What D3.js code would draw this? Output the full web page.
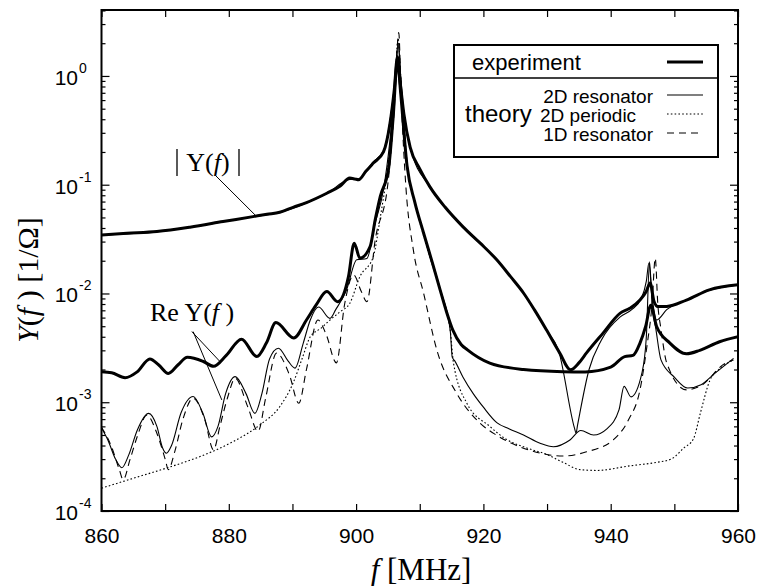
<!DOCTYPE html>
<html>
<head>
<meta charset="utf-8">
<script src="https://cdn.jsdelivr.net/npm/d3@7"></script>
<style>
  body { margin: 0; background: #fff; }
  svg { display: block; }
  .sans { font-family: "Liberation Sans", Arial, sans-serif; }
  .serif { font-family: "Liberation Serif", "Times New Roman", serif; }
</style>
</head>
<body>
<div id="chart"></div>
<script>
// ---- data: [f in MHz, Y in 1/Ohm] ----

// experiment, |Y(f)|
const expAbs = [
  [860, 0.0345], [864, 0.0357], [868.7, 0.0371], [873.9, 0.0407], [879.1, 0.0458],
  [883.8, 0.0509], [886, 0.0535], [888, 0.0558], [890.1, 0.062], [892.2, 0.0685],
  [895.4, 0.0835], [897.5, 0.097], [899, 0.115], [899.8, 0.113], [900.4, 0.111],
  [901.5, 0.132], [902.7, 0.158], [904.3, 0.2], [905.3, 0.36], [906, 0.75],
  [906.5, 1.5], [906.9, 0.9], [907.5, 0.45], [908.5, 0.22], [910, 0.14],
  [911.6, 0.0955], [914, 0.062], [916.8, 0.041], [919.5, 0.029], [922.1, 0.0204],
  [924.3, 0.0142], [926.3, 0.0101], [928, 0.0071], [929.9, 0.00463], [932, 0.00283],
  [933.7, 0.00199], [935, 0.0023], [936.2, 0.00284], [938.8, 0.00432], [941.5, 0.0066],
  [943, 0.0073], [944.6, 0.0087], [945.6, 0.0105], [946.2, 0.0125], [946.8, 0.0085],
  [947.4, 0.0076], [948.8, 0.0076], [951.9, 0.0087], [955.5, 0.0108], [960, 0.012]
];

// experiment, Re Y(f)
const expRe = [
  [860, 0.00191], [861.6, 0.00187], [863.7, 0.00168], [865.6, 0.0019], [867.6, 0.0025],
  [869, 0.0022], [870.5, 0.00184], [872, 0.0022], [873.5, 0.00259], [876, 0.00237],
  [877.6, 0.00214], [879.6, 0.0027], [882, 0.0038], [884.4, 0.00263], [885.9, 0.0035],
  [887.4, 0.0054], [890.2, 0.0039], [892.2, 0.0057], [893.7, 0.0078], [895.4, 0.0104],
  [897.1, 0.0084], [898.8, 0.0143], [899.7, 0.029], [900.6, 0.0211], [902.2, 0.027],
  [903, 0.0475], [903.8, 0.078], [905.1, 0.14], [905.8, 0.4], [906.5, 1.4],
  [907, 0.7], [908, 0.15], [909.2, 0.07], [910.6, 0.036], [912, 0.019],
  [913.2, 0.0108], [914.2, 0.0068], [915.2, 0.0046], [916.5, 0.0034], [917.5, 0.00303],
  [921, 0.00229], [926.3, 0.002], [932.5, 0.00191], [936, 0.0019], [940, 0.0021],
  [942.2, 0.00263], [943.5, 0.0027], [944.6, 0.0035], [945.5, 0.005], [946.3, 0.0078],
  [947.2, 0.005], [949.3, 0.0035], [951.9, 0.00279], [954, 0.003], [957.1, 0.0036],
  [960, 0.004]
];

// theory, 2D resonator, |Y(f)|
const res2dAbs = [
  [860, 0.0345], [868.7, 0.037], [873.9, 0.0405], [879.1, 0.0456], [883.8, 0.0508],
  [888, 0.0556], [892.2, 0.068], [895.4, 0.083], [899, 0.112], [900.3, 0.113],
  [902.7, 0.162], [904.3, 0.205], [905.3, 0.38], [906.1, 0.9], [906.6, 2.0],
  [907, 1.0], [907.5, 0.46], [908.5, 0.22], [911.6, 0.095], [916.8, 0.041],
  [922.1, 0.0203], [926.3, 0.01], [929.9, 0.0046], [931.8, 0.003], [934.3, 0.00058],
  [934.55, 0.00052], [934.8, 0.00062], [936.6, 0.002], [938.5, 0.0037], [941.5, 0.0061],
  [943.3, 0.0071], [944.8, 0.009], [945.6, 0.013], [946.0, 0.019], [946.5, 0.0094],
  [947.2, 0.0057], [948.8, 0.0071], [951.9, 0.0087], [955.5, 0.0107], [960, 0.012]
];

// theory, 2D resonator, Re Y(f)
const res2dRe = [
  [860, 0.00058], [861, 0.00045], [862.2, 0.0003], [863.2, 0.00025], [864.3, 0.00033],
  [865.6, 0.00055], [867.4, 0.00079], [868.7, 0.0006], [869.6, 0.00038], [870.2, 0.00034],
  [871, 0.0004], [872.5, 0.0008], [874.4, 0.00113], [875.9, 0.0008], [877.3, 0.00048],
  [878.3, 0.0006], [879.5, 0.0012], [881, 0.00172], [882.7, 0.0012], [884.1, 0.00079],
  [885.2, 0.0012], [886.4, 0.0025], [887.8, 0.00314], [889.3, 0.0024], [890.4, 0.00206],
  [891.7, 0.0035], [892.8, 0.0057], [894.1, 0.0075], [895.9, 0.0059], [896.8, 0.0071],
  [898.5, 0.0108], [900.1, 0.0204], [901.7, 0.021], [903, 0.0443], [904.3, 0.09],
  [905.3, 0.25], [906.1, 0.8], [906.6, 2.0], [907.1, 0.8], [908, 0.16],
  [909.2, 0.07], [910.6, 0.036], [913.2, 0.011], [914.8, 0.0045], [915.1, 0.0026],
  [915.5, 0.0024], [916.8, 0.0017], [918.4, 0.0012], [920, 0.0009], [922.1, 0.00065],
  [924, 0.00057], [926.3, 0.0005], [928.9, 0.00042], [931, 0.00039], [933.6, 0.00045],
  [935.3, 0.00055], [937.3, 0.0005], [939.4, 0.00057], [941.3, 0.00085], [942.1, 0.0014],
  [943.2, 0.00112], [944.9, 0.00185], [945.6, 0.004], [946.1, 0.0196], [946.5, 0.008],
  [947.1, 0.0047], [947.9, 0.00245], [950, 0.0017], [952.1, 0.00135], [954.2, 0.00145],
  [956.4, 0.00185], [959.3, 0.00253]
];

// theory, 2D periodic, Re Y(f)
const per2dRe = [
  [860, 0.000162], [865, 0.0002], [870.2, 0.000248], [875.5, 0.000317], [880.7, 0.000435],
  [884.9, 0.00062], [888, 0.00091], [890.1, 0.0015], [891.5, 0.0025], [892.8, 0.004],
  [894.5, 0.0048], [895.9, 0.0057], [897.5, 0.0068], [899, 0.0081], [900.6, 0.0143],
  [902.7, 0.0218], [903.8, 0.05], [905, 0.15], [906, 0.6], [906.6, 2.2],
  [907.1, 0.8], [908, 0.16], [909.2, 0.07], [910.6, 0.034], [913.2, 0.0105],
  [914.8, 0.0045], [915.3, 0.0023], [917.4, 0.00098], [921, 0.0006], [923.5, 0.00046],
  [926.8, 0.00038], [930, 0.00033], [932.5, 0.00028], [935.2, 0.00024], [937.8, 0.000236],
  [943, 0.00026], [947.2, 0.00028], [949.5, 0.0003], [951.5, 0.00038], [953, 0.00046],
  [954.1, 0.0008], [955.6, 0.0016], [957, 0.002], [959.3, 0.00245]
];

// theory, 1D resonator, Re Y(f)
const res1dRe = [
  [860, 0.00059], [861.5, 0.0004], [862.8, 0.00024], [863.4, 0.000194], [864.5, 0.0003],
  [865.7, 0.0005], [867.1, 0.00076], [868.8, 0.0005], [870, 0.0003], [870.5, 0.00024],
  [871.5, 0.00035], [872.8, 0.0007], [874.4, 0.00109], [876.2, 0.0007], [877.6, 0.000365],
  [878.6, 0.0006], [879.8, 0.0011], [881, 0.00166], [883, 0.0009], [884.6, 0.00054],
  [885.8, 0.0011], [887.5, 0.00283], [889.5, 0.0018], [891, 0.00098], [892.2, 0.002],
  [894, 0.0057], [895.3, 0.0042], [896.9, 0.0023], [898.2, 0.008], [899.6, 0.0148],
  [900.8, 0.0105], [901.7, 0.0084], [903, 0.031], [905, 0.103], [906, 0.5],
  [906.7, 2.5], [907.1, 0.6], [907.8, 0.1], [909, 0.025], [910.6, 0.0101],
  [912.7, 0.003], [915.8, 0.00121], [919.5, 0.00064], [922, 0.0005], [925.2, 0.0004],
  [929, 0.00034], [932.5, 0.00032], [936.2, 0.00035], [940.4, 0.00045], [942.8, 0.00069],
  [944.6, 0.0013], [945.7, 0.0033], [946.5, 0.008], [947.0, 0.0211], [947.4, 0.008],
  [947.9, 0.0047], [948.8, 0.0023], [951.9, 0.0013], [954, 0.0014], [958.1, 0.0023],
  [959.3, 0.00245]
];

// axes
const xTicks = [860, 870, 880, 890, 900, 910, 920, 930, 940, 950, 960];
const xLabels = [860, 880, 900, 920, 940, 960];
const yDecades = [1e-4, 1e-3, 1e-2, 1e-1, 1];
const yExponents = ["-4", "-3", "-2", "-1", "0"];

// ---- layout ----
const width = 760;
const height = 586;
const plotL = 101.5, plotR = 738, plotT = 10, plotB = 511;

const svg = d3.select("#chart")
  .append("svg")
  .attr("width", width)
  .attr("height", height);

const x = d3.scaleLinear().domain([860, 960]).range([plotL, plotR]);
const y = d3.scaleLog().domain([1e-4, 4.04]).range([plotB, plotT]);

svg.append("defs").append("clipPath").attr("id", "plot")
  .append("rect")
  .attr("x", plotL).attr("y", plotT)
  .attr("width", plotR - plotL).attr("height", plotB - plotT);

const line = d3.line()
  .x(d => x(d[0]))
  .y(d => y(d[1]))
  .curve(d3.curveMonotoneX);

const curves = svg.append("g").attr("clip-path", "url(#plot)");

function draw(data, w, dash) {
  curves.append("path")
    .datum(data)
    .attr("d", line)
    .attr("fill", "none")
    .attr("stroke", "#000")
    .attr("stroke-width", w)
    .attr("stroke-linejoin", "round")
    .attr("stroke-dasharray", dash);
}

draw(per2dRe, 1.1, "1.6,2.2");
draw(res1dRe, 1.1, "7,5");
draw(res2dRe, 1.1, null);
draw(res2dAbs, 1.1, null);
draw(expRe, 3, null);
draw(expAbs, 3, null);

// minor log ticks
const yMinor = [];
yDecades.forEach(d => {
  for (let k = 2; k <= 9; k++) if (d * k <= 4.04) yMinor.push(d * k);
});

// axes with inward ticks
svg.append("g")
  .attr("transform", `translate(0,${plotB})`)
  .call(d3.axisBottom(x).tickValues(xTicks)
    .tickSizeInner(-7).tickSizeOuter(0).tickPadding(17)
    .tickFormat(d => xLabels.includes(d) ? d : ""))
  .call(g => g.select(".domain").remove())
  .call(g => g.selectAll("text").attr("font-size", 21)
    .attr("font-family", "Liberation Sans, Arial, sans-serif").attr("fill", "#000"));

svg.append("g")
  .attr("transform", `translate(0,${plotT})`)
  .call(d3.axisTop(x).tickValues(xTicks).tickSizeInner(-7).tickSizeOuter(0).tickFormat(""))
  .call(g => g.select(".domain").remove());

[[d3.axisLeft, plotL], [d3.axisRight, plotR]].forEach(([ax, pos]) => {
  svg.append("g")
    .attr("transform", `translate(${pos},0)`)
    .call(ax(y).tickValues(yDecades).tickSizeInner(-8).tickSizeOuter(0).tickFormat(""))
    .call(g => g.select(".domain").remove());
  svg.append("g")
    .attr("transform", `translate(${pos},0)`)
    .call(ax(y).tickValues(yMinor).tickSizeInner(-4).tickSizeOuter(0).tickFormat(""))
    .call(g => g.select(".domain").remove());
});

svg.selectAll(".tick line").attr("stroke", "#000").attr("stroke-width", 1.2);

// y tick labels 10^n
const yl = svg.append("g").attr("class", "sans").attr("fill", "#000");
yDecades.forEach((d, i) => {
  yl.append("text")
    .attr("x", 78).attr("y", y(d) + 9)
    .attr("text-anchor", "end")
    .attr("font-size", 21)
    .text("10");
  yl.append("text")
    .attr("x", 79).attr("y", y(d) - 3)
    .attr("font-size", 14)
    .text(yExponents[i]);
});

// frame
svg.append("rect")
  .attr("x", plotL).attr("y", plotT)
  .attr("width", plotR - plotL).attr("height", plotB - plotT)
  .attr("fill", "none").attr("stroke", "#000").attr("stroke-width", 2);

// axis titles
const xt = svg.append("text")
  .attr("class", "serif")
  .attr("x", 421).attr("y", 580)
  .attr("text-anchor", "middle")
  .attr("font-size", 31);
xt.append("tspan").attr("font-style", "italic").text("f");
xt.append("tspan").text(" [MHz]");

const ytl = svg.append("text")
  .attr("class", "serif")
  .attr("transform", "translate(38,280) rotate(-90)")
  .attr("text-anchor", "middle")
  .attr("font-size", 30);
ytl.append("tspan").attr("font-style", "italic").text("Y");
ytl.append("tspan").text("(");
ytl.append("tspan").attr("font-style", "italic").text("f");
ytl.append("tspan").text(" )  [1/\u03A9]");

// annotations
const ann = svg.append("g").attr("class", "serif").attr("stroke", "#000");

const absLab = ann.append("text")
  .attr("x", 208).attr("y", 171)
  .attr("text-anchor", "middle")
  .attr("font-size", 26)
  .attr("stroke", "none");
absLab.append("tspan").text("Y(");
absLab.append("tspan").attr("font-style", "italic").text("f");
absLab.append("tspan").text(")");
ann.append("line").attr("x1", 177).attr("x2", 177).attr("y1", 149).attr("y2", 176).attr("stroke-width", 1.3);
ann.append("line").attr("x1", 239).attr("x2", 239).attr("y1", 149).attr("y2", 176).attr("stroke-width", 1.3);
ann.append("line")
  .attr("x1", 216).attr("y1", 176)
  .attr("x2", x(884.3)).attr("y2", y(0.0515))
  .attr("stroke-width", 1);

const reLab = ann.append("text")
  .attr("x", 150).attr("y", 321)
  .attr("font-size", 26)
  .attr("stroke", "none");
reLab.append("tspan").text("Re Y(");
reLab.append("tspan").attr("font-style", "italic").text("f");
reLab.append("tspan").text(" )");
ann.append("line")
  .attr("x1", x(874.2)).attr("y1", y(0.00446))
  .attr("x2", x(878.6)).attr("y2", y(0.00237))
  .attr("stroke-width", 1);
ann.append("line")
  .attr("x1", x(874.4)).attr("y1", y(0.00446))
  .attr("x2", x(878.9)).attr("y2", y(0.00105))
  .attr("stroke-width", 1);

// legend
const lg = svg.append("g").attr("class", "sans");
lg.append("rect")
  .attr("x", 454).attr("y", 45).attr("width", 264).attr("height", 112)
  .attr("fill", "#fff").attr("stroke", "#000").attr("stroke-width", 2);
lg.append("line").attr("x1", 454).attr("x2", 718).attr("y1", 78).attr("y2", 78)
  .attr("stroke", "#000").attr("stroke-width", 1.5);
lg.append("text").attr("x", 472).attr("y", 70).attr("font-size", 22).text("experiment");
lg.append("line").attr("x1", 667).attr("x2", 703).attr("y1", 62).attr("y2", 62)
  .attr("stroke", "#000").attr("stroke-width", 3);
lg.append("text").attr("x", 465).attr("y", 122).attr("font-size", 24).text("theory");

const items = [
  { label: "2D resonator", dash: null, yb: 103, anchor: "end", tx: 653 },
  { label: "2D periodic", dash: "1.6,2.2", yb: 122, anchor: "start", tx: 540 },
  { label: "1D resonator", dash: "7,5", yb: 141, anchor: "end", tx: 653 }
];
items.forEach(it => {
  lg.append("text").attr("x", it.tx).attr("y", it.yb)
    .attr("text-anchor", it.anchor).attr("font-size", 19).text(it.label);
  lg.append("line").attr("x1", 667).attr("x2", 703)
    .attr("y1", it.yb - 8).attr("y2", it.yb - 8)
    .attr("stroke", "#000").attr("stroke-width", 1.1)
    .attr("stroke-dasharray", it.dash);
});
</script>
</body>
</html>
